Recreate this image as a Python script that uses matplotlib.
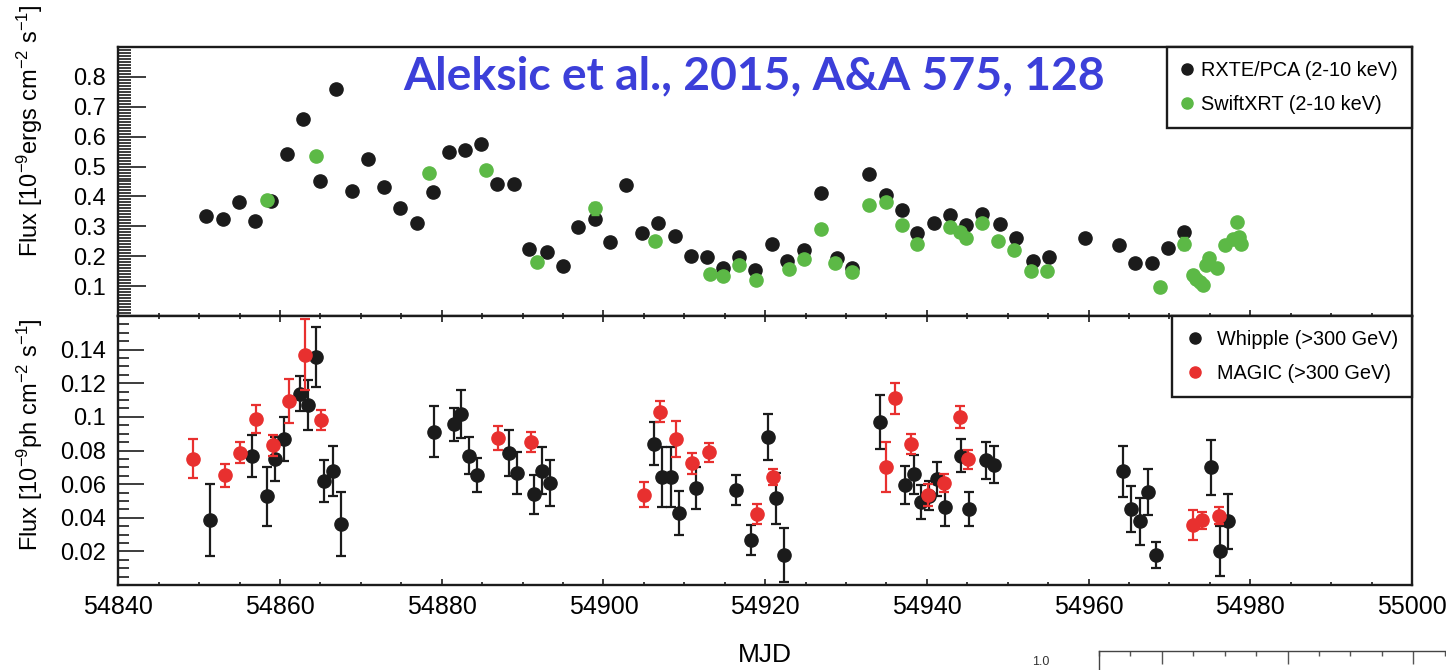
import matplotlib
matplotlib.use("Agg")
import matplotlib.pyplot as plt
from matplotlib.lines import Line2D
from matplotlib.ticker import FixedLocator, MultipleLocator, FuncFormatter

# ---------------------------- Data --------------------------------------------
# X-ray (top panel): RXTE/PCA
rxte_mjd = [54850.9, 54852.9, 54854.9, 54856.9, 54858.9, 54860.9, 54862.9, 54864.9,
            54866.9, 54868.9, 54870.9, 54872.9, 54874.9, 54876.9, 54878.9, 54880.9,
            54882.9, 54884.8, 54886.8, 54888.9, 54890.8, 54893.0, 54895.0, 54896.9,
            54898.9, 54900.8, 54902.8, 54904.8, 54906.8, 54908.8, 54910.8, 54912.8,
            54914.8, 54916.8, 54918.8, 54920.8, 54922.7, 54924.8, 54926.9, 54928.9,
            54930.8, 54932.8, 54935.0, 54936.9, 54938.8, 54940.9, 54942.9, 54944.9,
            54946.8, 54949.1, 54951.0, 54953.1, 54955.1, 54959.6, 54963.8, 54965.8,
            54967.8, 54969.8, 54971.8]
rxte_flux = [0.336, 0.326, 0.382, 0.318, 0.386, 0.541, 0.658, 0.452,
             0.759, 0.418, 0.525, 0.431, 0.360, 0.312, 0.416, 0.548,
             0.555, 0.576, 0.440, 0.440, 0.223, 0.215, 0.167, 0.298,
             0.326, 0.249, 0.439, 0.279, 0.310, 0.268, 0.202, 0.197,
             0.160, 0.196, 0.153, 0.242, 0.185, 0.220, 0.411, 0.195,
             0.160, 0.476, 0.405, 0.356, 0.278, 0.312, 0.339, 0.305,
             0.341, 0.308, 0.260, 0.183, 0.197, 0.260, 0.237, 0.178,
             0.176, 0.226, 0.281]

# X-ray (top panel): Swift/XRT
xrt_mjd = [54858.4, 54864.5, 54878.4, 54885.5, 54891.8, 54898.9, 54906.4, 54913.2,
           54914.8, 54916.8, 54918.9, 54922.9, 54924.8, 54926.9, 54928.7, 54930.8,
           54932.8, 54935.0, 54936.9, 54938.8, 54942.9, 54944.1, 54944.9, 54946.8,
           54948.8, 54950.8, 54952.9, 54954.8, 54968.8, 54971.8, 54972.9, 54973.3,
           54973.8, 54974.2, 54974.5, 54974.9, 54975.9, 54976.9, 54977.9, 54978.3,
           54978.6, 54978.8]
xrt_flux = [0.388, 0.536, 0.477, 0.487, 0.179, 0.361, 0.251, 0.142,
            0.133, 0.169, 0.120, 0.156, 0.191, 0.291, 0.178, 0.148,
            0.373, 0.381, 0.303, 0.242, 0.297, 0.281, 0.261, 0.310,
            0.251, 0.220, 0.151, 0.149, 0.097, 0.242, 0.138, 0.125,
            0.113, 0.103, 0.171, 0.195, 0.160, 0.238, 0.258, 0.316,
            0.265, 0.242]
xrt_err = [0.005, 0.005, 0.005, 0.005, 0.005, 0.022, 0.005, 0.005,
           0.005, 0.005, 0.005, 0.005, 0.005, 0.008, 0.005, 0.005,
           0.007, 0.005, 0.005, 0.005, 0.005, 0.005, 0.005, 0.005,
           0.005, 0.005, 0.005, 0.005, 0.005, 0.022, 0.005, 0.005,
           0.005, 0.005, 0.005, 0.005, 0.005, 0.005, 0.005, 0.005,
           0.005, 0.005]

# VHE (bottom panel): Whipple
whipple_mjd = [54851.4, 54856.5, 54858.4, 54859.4, 54860.5, 54862.5, 54863.5, 54864.5,
               54865.5, 54866.5, 54867.6, 54879.1, 54881.5, 54882.4, 54883.4, 54884.4,
               54888.3, 54889.3, 54891.4, 54892.4, 54893.4, 54906.2, 54907.2, 54908.3,
               54909.3, 54911.4, 54916.4, 54918.3, 54920.3, 54921.3, 54922.3, 54934.2,
               54937.3, 54938.4, 54939.3, 54940.3, 54941.3, 54942.3, 54944.2, 54945.2,
               54947.3, 54948.3, 54964.3, 54965.2, 54966.3, 54967.3, 54968.3, 54975.2,
               54976.2, 54977.3]
whipple_flux = [0.0388, 0.0765, 0.0528, 0.0751, 0.0867, 0.1139, 0.1071, 0.1356,
                0.0618, 0.0678, 0.0364, 0.0913, 0.0955, 0.1015, 0.0768, 0.0656,
                0.0787, 0.0666, 0.0540, 0.0680, 0.0606, 0.0841, 0.0642, 0.0642,
                0.0428, 0.0578, 0.0566, 0.0268, 0.0879, 0.0516, 0.0178, 0.0969,
                0.0594, 0.0658, 0.0492, 0.0532, 0.0628, 0.0466, 0.0770, 0.0454,
                0.0741, 0.0716, 0.0676, 0.0452, 0.0378, 0.0554, 0.0178, 0.0700,
                0.0201, 0.0378]
whipple_err = [0.0215, 0.0125, 0.0176, 0.0130, 0.0130, 0.0103, 0.0150, 0.0177,
               0.0125, 0.0150, 0.0190, 0.0152, 0.0100, 0.0142, 0.0110, 0.0100,
               0.0136, 0.0125, 0.0115, 0.0138, 0.0138, 0.0127, 0.0176, 0.0176,
               0.0129, 0.0125, 0.0090, 0.0087, 0.0138, 0.0152, 0.0163, 0.0163,
               0.0112, 0.0114, 0.0100, 0.0087, 0.0101, 0.0114, 0.0100, 0.0101,
               0.0112, 0.0112, 0.0150, 0.0138, 0.0138, 0.0137, 0.0077, 0.0163,
               0.0150, 0.0163]

# VHE (bottom panel): MAGIC
magic_mjd = [54849.2, 54853.2, 54855.1, 54857.0, 54859.1, 54861.1, 54863.1, 54865.1,
             54887.0, 54891.0, 54905.0, 54907.0, 54909.0, 54911.0, 54913.0, 54919.0,
             54921.0, 54935.0, 54936.1, 54938.1, 54940.1, 54942.1, 54944.1, 54945.1,
             54972.9, 54974.0, 54976.1]
magic_flux = [0.0751, 0.0652, 0.0787, 0.0987, 0.0831, 0.1095, 0.1370, 0.0979,
              0.0875, 0.0849, 0.0538, 0.1031, 0.0867, 0.0723, 0.0789, 0.0422,
              0.0642, 0.0702, 0.1111, 0.0837, 0.0536, 0.0608, 0.0999, 0.0747,
              0.0356, 0.0384, 0.0412]
magic_err = [0.0117, 0.0070, 0.0063, 0.0085, 0.0062, 0.0133, 0.0210, 0.0060,
             0.0070, 0.0060, 0.0076, 0.0064, 0.0107, 0.0060, 0.0055, 0.0058,
             0.0050, 0.0146, 0.0093, 0.0060, 0.0065, 0.0055, 0.0064, 0.0055,
             0.0089, 0.0053, 0.0052]

top_yticks = [0.1, 0.2, 0.3, 0.4, 0.5, 0.6, 0.7, 0.8]
bot_yticks = [0.02, 0.04, 0.06, 0.08, 0.10, 0.12, 0.14]

# ---------------------------- Style -------------------------------------------
plt.rcParams["font.family"] = ["Liberation Sans", "DejaVu Sans"]
plt.rcParams["mathtext.fontset"] = "custom"
plt.rcParams["mathtext.rm"] = "Liberation Sans"
plt.rcParams["mathtext.it"] = "Liberation Sans"

BLACK = "#1b1b1b"
GREEN = "#5cb946"
RED = "#e8302f"
BLUE = "#3c3fd9"
MS = 9.5

fig = plt.figure(figsize=(14.46, 6.70), dpi=100)
W, H = 1446.0, 670.0
x0, x1 = 118.3, 1412.0
ax_top = fig.add_axes([x0 / W, 1 - 316 / H, (x1 - x0) / W, 269 / H])
ax_bot = fig.add_axes([x0 / W, 1 - 585 / H, (x1 - x0) / W, 269 / H])

for ax in (ax_top, ax_bot):
    ax.set_xlim(54840, 55000)
    ax.xaxis.set_major_locator(MultipleLocator(20))
    ax.xaxis.set_minor_locator(MultipleLocator(5))
    for s in ax.spines.values():
        s.set_linewidth(1.7)
        s.set_color(BLACK)
    ax.tick_params(axis="x", which="both", direction="in", width=1.2, color=BLACK)
    ax.tick_params(axis="x", which="major", length=4.5)
    ax.tick_params(axis="x", which="minor", length=2.5)
    ax.tick_params(axis="y", which="both", direction="in", width=1.2, color=BLACK,
                   labelsize=17, pad=9)
    ax.yaxis.set_major_formatter(FuncFormatter(lambda v, p: "%g" % round(v, 3)))

# ---- Top panel: X-ray -------------------------------------------------------
ax_top.set_ylim(0, 0.9)
ax_top.yaxis.set_major_locator(FixedLocator(top_yticks))
ax_top.yaxis.set_minor_locator(MultipleLocator(0.01))
ax_top.tick_params(axis="y", which="major", length=20)
ax_top.tick_params(axis="y", which="minor", length=9.4)
ax_top.tick_params(axis="x", labelbottom=False, top=False)

ax_top.errorbar(rxte_mjd, rxte_flux, yerr=0.005, fmt="o", color=BLACK, ms=MS,
                elinewidth=1.5, capsize=3, mec=BLACK, zorder=3)
ax_top.errorbar(xrt_mjd, xrt_flux, yerr=xrt_err, fmt="o", color=GREEN, ms=MS,
                elinewidth=1.5, capsize=3, mec=GREEN, zorder=4)

top_handles = [
    Line2D([], [], ls="none", marker="o", color=BLACK, ms=8),
    Line2D([], [], ls="none", marker="o", color=GREEN, ms=8),
]
leg = ax_top.legend(top_handles, ["RXTE/PCA (2-10 keV)", "SwiftXRT (2-10 keV)"],
                    loc="upper right", bbox_to_anchor=(1, 1), borderaxespad=0,
                    fontsize=14.3, fancybox=False, framealpha=1, edgecolor=BLACK,
                    borderpad=0.7, labelspacing=0.78, handlelength=0.6,
                    handletextpad=0.42)
leg.get_frame().set_linewidth(1.7)

title = ax_top.text(403 / W, 1 - 89 / H, "Aleksic et al., 2015, A&A 575, 128",
                    transform=fig.transFigure, color=BLUE, fontsize=36,
                    fontweight="bold", family=["Lato", "DejaVu Sans"],
                    ha="left", va="baseline", zorder=5)

# ---- Bottom panel: VHE ------------------------------------------------------
ax_bot.set_ylim(0, 0.16)
ax_bot.yaxis.set_major_locator(FixedLocator(bot_yticks))
ax_bot.yaxis.set_minor_locator(MultipleLocator(0.005))
ax_bot.tick_params(axis="y", which="major", length=18.7)
ax_bot.tick_params(axis="y", which="minor", length=8)
ax_bot.tick_params(axis="x", top=True, which="both", labelsize=18, pad=7)

ax_bot.errorbar(whipple_mjd, whipple_flux, yerr=whipple_err, fmt="o", color=BLACK,
                ms=MS, elinewidth=1.6, capsize=3.8, capthick=1.6, zorder=3)
ax_bot.errorbar(magic_mjd, magic_flux, yerr=magic_err, fmt="o", color=RED,
                ms=MS, elinewidth=1.6, capsize=3.8, capthick=1.6, zorder=4)

bot_handles = [
    Line2D([], [], ls="none", marker="o", color=BLACK, ms=8),
    Line2D([], [], ls="none", marker="o", color=RED, ms=8),
]
leg2 = ax_bot.legend(bot_handles, ["Whipple (>300 GeV)", "MAGIC (>300 GeV)"],
                     loc="upper right", bbox_to_anchor=(1, 1), borderaxespad=0,
                     fontsize=14.3, fancybox=False, framealpha=1, edgecolor=BLACK,
                     borderpad=0.7, labelspacing=0.78, handlelength=0.97,
                     handletextpad=0.6)
leg2.get_frame().set_linewidth(1.7)

# Axis labels
fig.text(30 / W, 1 - 4 / H, r"Flux [10$^{-9}$ergs cm$^{-2}$ s$^{-1}$]",
         rotation=90, ha="center", va="top", fontsize=17)
fig.text(30 / W, 1 - 318 / H, r"Flux [10$^{-9}$ph cm$^{-2}$ s$^{-1}$]",
         rotation=90, ha="center", va="top", fontsize=17)
fig.text((x0 + x1) / 2 / W, 1 - 655 / H, "MJD", ha="center", va="center",
         fontsize=19)

# Cropped fragment of a neighbouring figure (bottom-right corner)
ax_frag = fig.add_axes([1099 / W, -0.3, 0.3, 0.3 + 19 / H])
ax_frag.set_xlim(0, 13.8)
ax_frag.xaxis.set_major_locator(FixedLocator([2, 6, 10]))
ax_frag.xaxis.set_minor_locator(FixedLocator(list(range(0, 14))))
ax_frag.tick_params(axis="x", which="both", direction="in", top=True, bottom=False,
                    labelbottom=False, color="#555555", width=1)
ax_frag.tick_params(axis="x", which="major", length=9)
ax_frag.tick_params(axis="x", which="minor", length=3.6)
ax_frag.tick_params(axis="y", left=False, labelleft=False)
ax_frag.spines["right"].set_visible(False)
ax_frag.spines["bottom"].set_visible(False)
for s in ("top", "left"):
    ax_frag.spines[s].set_color("#444444")
    ax_frag.spines[s].set_linewidth(1)
fig.text(1032 / W, 1 - 656 / H, "1.0", ha="left", va="top", fontsize=9,
         color="#333333")

# Fit title width to the reference (~700 px)
fig.canvas.draw()
bb = title.get_window_extent()
title.set_fontsize(36 * 700.0 / bb.width)

fig.savefig("out.png", dpi=100)
